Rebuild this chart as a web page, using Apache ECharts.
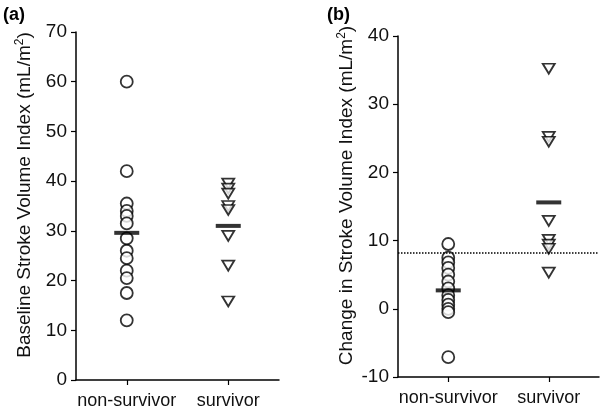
<!DOCTYPE html>
<html>
<head>
<meta charset="utf-8">
<script src="https://cdn.jsdelivr.net/npm/echarts@6/dist/echarts.min.js"></script>
<style>
html,body{margin:0;padding:0;background:#fff;}
#chart{width:600px;height:415px;}
</style>
</head>
<body>
<div id="chart"></div>
<script>
// ---- data ----
var categories = ['non-survivor', 'survivor'];
// (a) Baseline stroke volume index
var baselineNonSurvivor = [60, 42, 35.5, 34, 33, 31.5, 28.5, 26, 24.5, 22, 20.5, 17.5, 12];
var baselineSurvivor = [39.5, 38.5, 37.5, 35, 34.2, 29, 23, 15.8];
var baselineMean = [29.6, 31.0];
var baselineTicks = [0, 10, 20, 30, 40, 50, 60, 70];
// (b) Change in stroke volume index
var changeNonSurvivor = [9.5, 7.5, 6.8, 6, 5, 4, 3, 2, 1.3, 0.6, 0, -0.5, -7.1];
var changeSurvivor = [35.2, 25.2, 24.5, 12.9, 10.1, 9.4, 8.8, 5.3];
var changeMean = [2.7, 15.6];
var changeThreshold = 8.2;
var changeTicks = [-10, 0, 10, 20, 30, 40];

var FONT = 'Liberation Sans, Arial, sans-serif';
var chart = echarts.init(document.getElementById('chart'), null, {renderer: 'canvas'});

function pts(cat, arr) { return arr.map(function (v) { return [cat, v]; }); }
function meanPts(arr) { return arr.map(function (v, i) { return [categories[i], v]; }); }

function xAxisCfg(gi) {
  return {
    type: 'category', gridIndex: gi, data: categories,
    boundaryGap: true,
    axisLine: {show: true, onZero: false, lineStyle: {color: '#000', width: 1.5}},
    axisTick: {show: true, alignWithLabel: true, interval: 0, length: 5, lineStyle: {color: '#000', width: 1.2}},
    axisLabel: {color: '#111', fontFamily: FONT, fontSize: 18, margin: 12, interval: 0},
    splitLine: {show: false}
  };
}
function yAxisCfg(gi, ticks, name) {
  return {
    type: 'value', gridIndex: gi,
    min: ticks[0], max: ticks[ticks.length - 1], interval: ticks[1] - ticks[0],
    axisLine: {show: true, lineStyle: {color: '#000', width: 1.5}},
    axisTick: {show: true, length: 5, lineStyle: {color: '#000', width: 1.2}},
    axisLabel: {color: '#111', fontFamily: FONT, fontSize: 19, margin: 9},
    splitLine: {show: false},
    name: name, nameLocation: 'middle', nameRotate: 90, nameGap: 41,
    nameTextStyle: {
      color: '#111', fontFamily: FONT, fontSize: 19, padding: [0, 0, 0, 22],
      rich: {sup: {fontSize: 12, verticalAlign: 'top', fontFamily: FONT, color: '#111', padding: [0, 0, 9, 0]}}
    }
  };
}

var circleStyle = {color: '#fff', borderColor: '#000', borderWidth: 1.8};
var triStyle = {color: '#fff', borderColor: '#000', borderWidth: 1.8};

var option = {
  animation: false,
  backgroundColor: '#fff',
  graphic: [
    {type: 'text', left: 3, top: 6, style: {text: '(a)', font: 'bold 18px ' + FONT, fill: '#000'}},
    {type: 'text', left: 327, top: 6, style: {text: '(b)', font: 'bold 18px ' + FONT, fill: '#000'}}
  ],
  grid: [
    {left: 76, top: 32, width: 203, height: 348},
    {left: 398, top: 36, width: 201, height: 341}
  ],
  xAxis: [xAxisCfg(0), xAxisCfg(1)],
  yAxis: [
    yAxisCfg(0, baselineTicks, 'Baseline Stroke Volume Index (mL/m{sup|2})'),
    yAxisCfg(1, changeTicks, 'Change in Stroke Volume Index (mL/m{sup|2})')
  ],
  series: [
    {type: 'scatter', xAxisIndex: 0, yAxisIndex: 0, data: pts(categories[0], baselineNonSurvivor),
      symbol: 'circle', symbolSize: 12, itemStyle: circleStyle, z: 2},
    {type: 'scatter', xAxisIndex: 0, yAxisIndex: 0, data: pts(categories[1], baselineSurvivor),
      symbol: 'triangle', symbolSize: [12, 10], symbolRotate: 180, itemStyle: triStyle, z: 2},
    {type: 'scatter', xAxisIndex: 0, yAxisIndex: 0, data: meanPts(baselineMean),
      symbol: 'rect', symbolSize: [25, 4], itemStyle: {color: '#000'}, z: 5},
    {type: 'scatter', xAxisIndex: 1, yAxisIndex: 1, data: pts(categories[0], changeNonSurvivor),
      symbol: 'circle', symbolSize: 12, itemStyle: circleStyle, z: 2,
      markLine: {
        silent: true, symbol: ['none', 'none'], label: {show: false},
        lineStyle: {type: 'dotted', color: '#000', width: 1.5},
        data: [{yAxis: changeThreshold}]
      }},
    {type: 'scatter', xAxisIndex: 1, yAxisIndex: 1, data: pts(categories[1], changeSurvivor),
      symbol: 'triangle', symbolSize: [12, 10], symbolRotate: 180, itemStyle: triStyle, z: 2},
    {type: 'scatter', xAxisIndex: 1, yAxisIndex: 1, data: meanPts(changeMean),
      symbol: 'rect', symbolSize: [25, 4], itemStyle: {color: '#000'}, z: 5}
  ]
};
chart.setOption(option);
</script>
</body>
</html>
